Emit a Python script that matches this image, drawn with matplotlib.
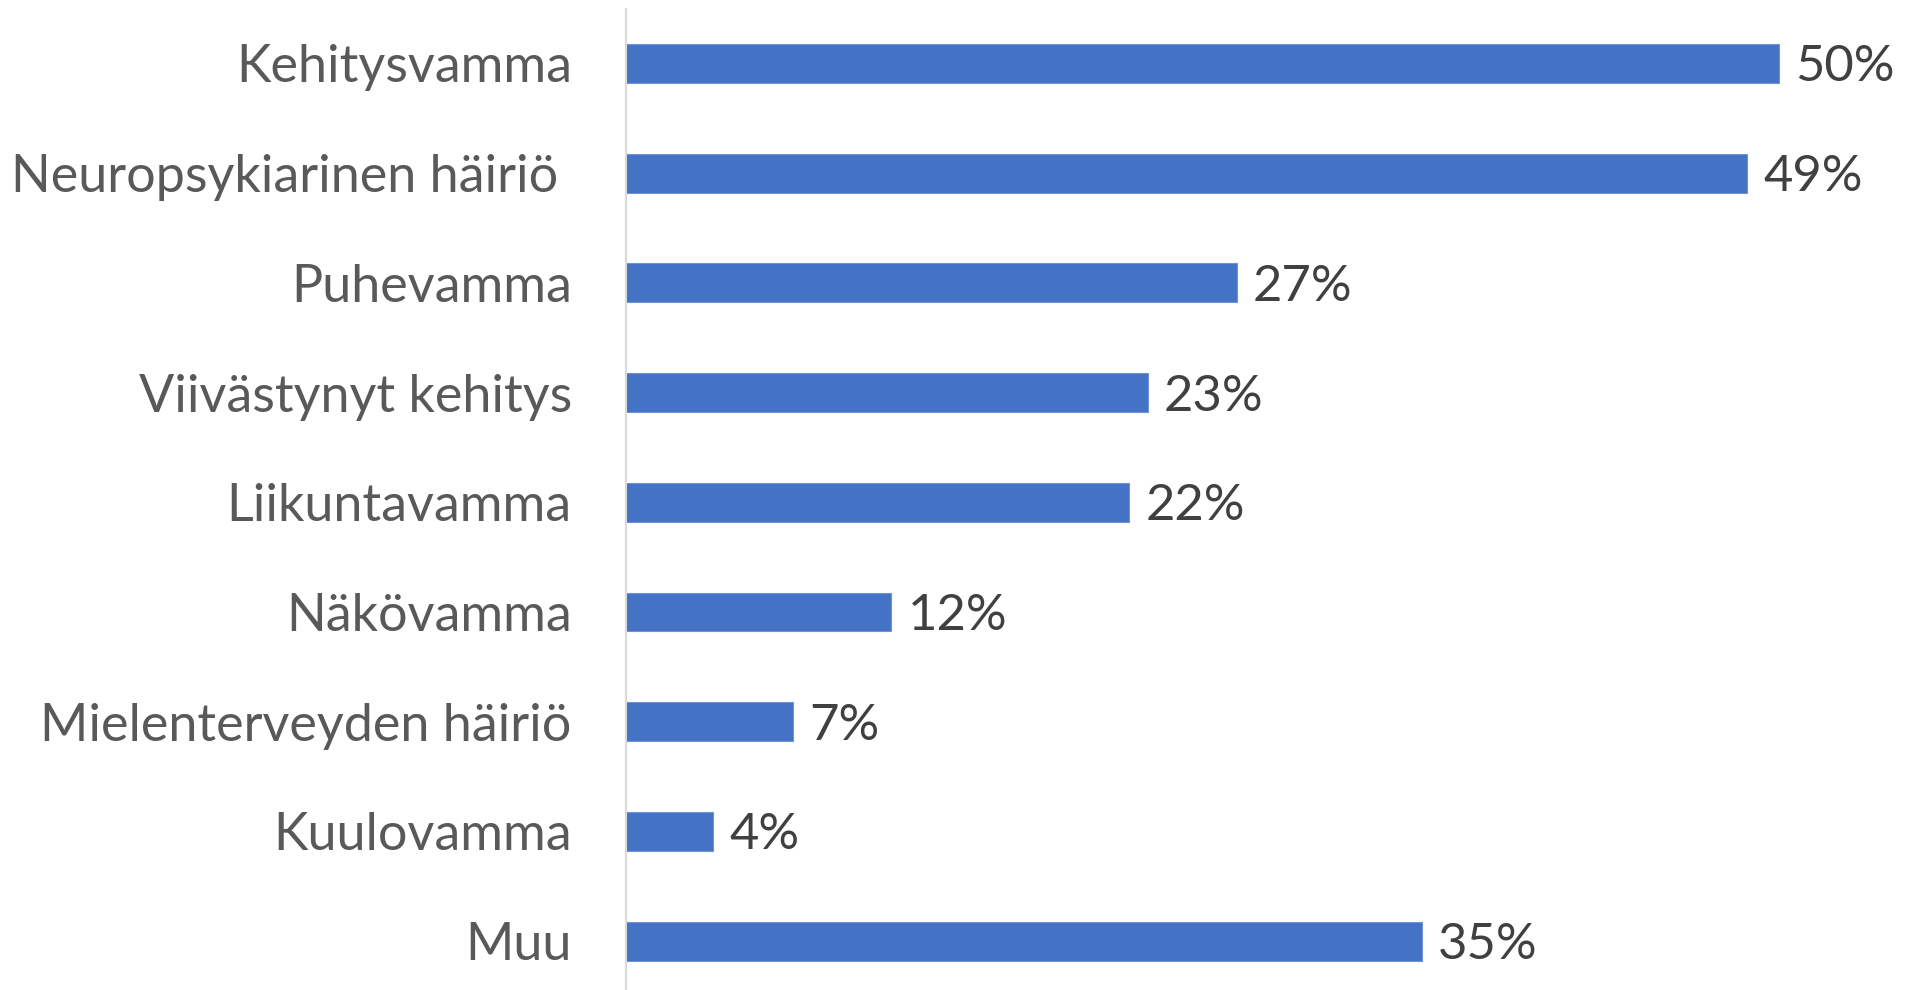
import matplotlib.pyplot as plt

categories = ["Kehitysvamma", "Neuropsykiarinen häiriö ", "Puhevamma", "Viivästynyt kehitys",
              "Liikuntavamma", "Näkövamma", "Mielenterveyden häiriö", "Kuulovamma", "Muu"]
# bar lengths (labels are rounded)
values = [50.4, 49.0, 26.7, 22.8, 22.0, 11.6, 7.3, 3.8, 34.8]
value_labels = ["50%", "49%", "27%", "23%", "22%", "12%", "7%", "4%", "35%"]

plt.rcParams['font.family'] = ['Lato', 'DejaVu Sans']

fig = plt.figure(figsize=(19.08, 9.9), dpi=100)
ax = fig.add_axes([626 / 1908, -6 / 990, 1 - 626 / 1908, 1 - 2.6 / 990])

y = list(range(len(categories)))
ax.barh(y, values, height=0.355, color="#4472C4", edgecolor="#6f93d4", linewidth=0.8)

for yi, v, lab in zip(y, values, value_labels):
    ax.annotate(lab, (v, yi), xytext=(16, -4), textcoords="offset pixels",
                va="center", ha="left", fontsize=36.5, color="#404040")

ax.set_xlim(0, (1908 - 626) / 22.88)
ax.set_ylim(len(categories) - 0.5, -0.5)
ax.set_yticks(y)
ax.set_yticklabels(categories, fontsize=37.5, color="#595959")
ax.tick_params(axis="y", length=0, pad=39)
ax.set_xticks([])

for s in ["top", "right", "bottom"]:
    ax.spines[s].set_visible(False)
ax.spines["left"].set_color("#d9d9d9")
ax.spines["left"].set_linewidth(1.5)

fig.savefig("out.png", dpi=100)
